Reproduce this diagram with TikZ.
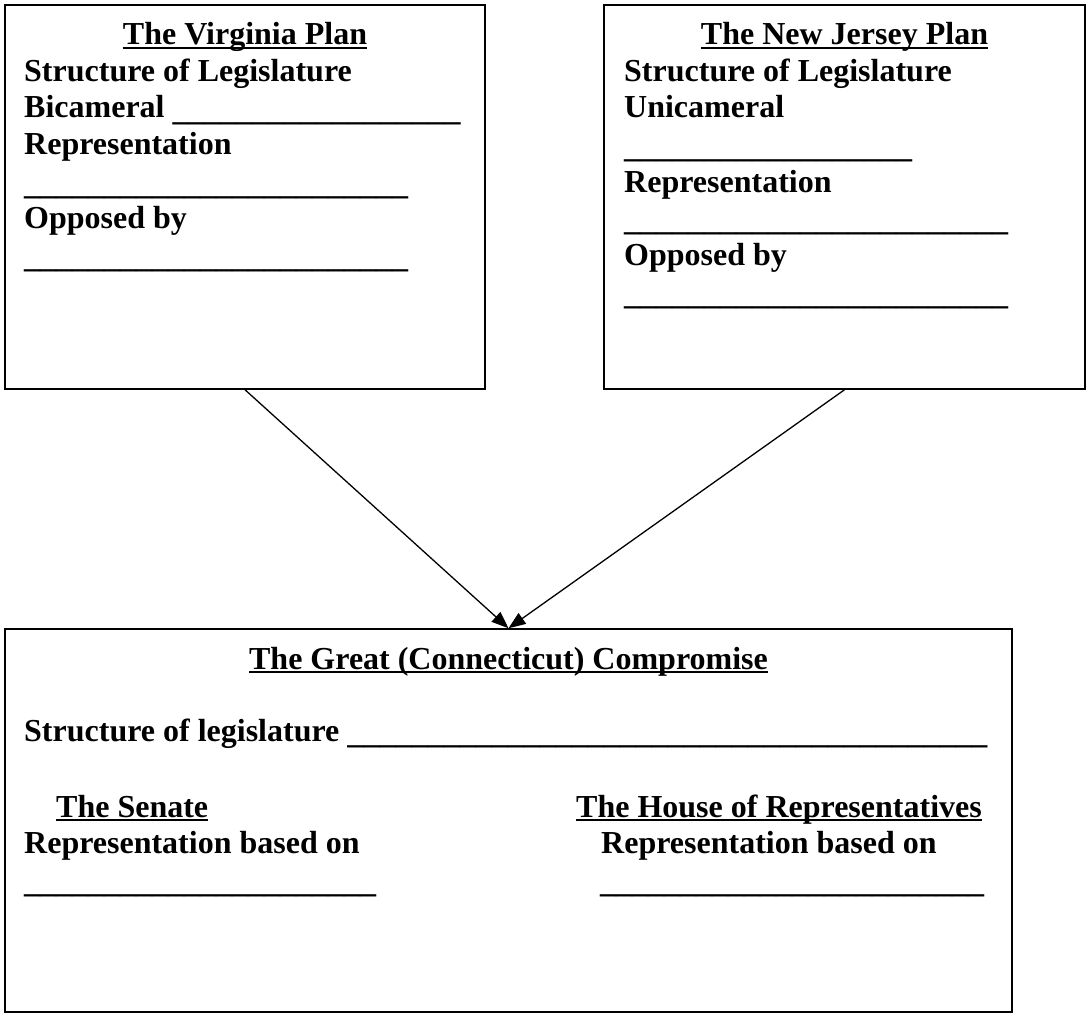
\documentclass[tikz,border=0pt]{standalone}
\usepackage{fontspec}
\setmainfont{Liberation Serif}
\usetikzlibrary{arrows.meta}
\newcommand\ulx[1]{\setbox0\hbox{#1}\rlap{\rule[-4pt]{\wd0}{1.8pt}}\box0}
\newcommand\blanks[1]{\raisebox{-2.5pt}{\count255=0 \loop\_\advance\count255 by 1 \ifnum\count255<#1 \repeat}}
\tikzset{
  x=1pt, y=-1pt,
  box/.style={draw, line width=1.5pt, inner sep=0pt},
  txt/.style={anchor=base west, inner sep=0pt, font=\fontsize{32}{37}\selectfont\bfseries},
  ttl/.style={anchor=base, inner sep=0pt, font=\fontsize{32}{37}\selectfont\bfseries},
  link/.style={line width=1.3pt, -{Triangle[length=17pt,width=13pt]}}
}
\begin{document}
\begin{tikzpicture}
\useasboundingbox (0,0) rectangle (1087,1014);
% boxes
\node[box, minimum width=480pt, minimum height=384pt] (va) at (245,197) {};
\node[box, minimum width=481pt, minimum height=384pt] (nj) at (844.5,197) {};
\node[box, minimum width=1007pt, minimum height=383pt] (gc) at (508.5,820.5) {};
% Virginia plan
\node[ttl] (vat) at (245,45) {\ulx{The Virginia Plan}};
\node[txt] (va1) at (24,82) {Structure of Legislature};
\node[txt] (va2) at (24,118) {Bicameral \blanks{18}};
\node[txt] (va3) at (24,155) {Representation};
\node[txt] (va4) at (24,192) {\blanks{24}};
\node[txt] (va5) at (24,228) {Opposed by};
\node[txt] (va6) at (24,265) {\blanks{24}};
% New Jersey plan
\node[ttl] (njt) at (844.5,45) {\ulx{The New Jersey Plan}};
\node[txt] (nj1) at (624,82) {Structure of Legislature};
\node[txt] (nj2) at (624,118) {Unicameral};
\node[txt] (nj3) at (624,155) {\blanks{18}};
\node[txt] (nj4) at (624,192) {Representation};
\node[txt] (nj5) at (624,228) {\blanks{24}};
\node[txt] (nj6) at (624,265) {Opposed by};
\node[txt] (nj7) at (624,302) {\blanks{24}};
% Compromise
\node[ttl] (gct) at (508.5,669) {\ulx{The Great (Connecticut) Compromise}};
\node[txt] (gc1) at (24,741) {Structure of legislature \blanks{40}};
\node[txt] (gc2) at (56,817) {\ulx{The Senate}};
\node[txt] (gc3) at (24,853) {Representation based on};
\node[txt] (gc4) at (24,890) {\blanks{22}};
\node[txt] (gc5) at (576,817) {\ulx{The House of Representatives}};
\node[txt] (gc6) at (601,853) {Representation based on};
\node[txt] (gc7) at (600,890) {\blanks{24}};
% arrows
\draw[link] (va.south) -- (gc.north);
\draw[link] (nj.south) -- (gc.north);
\end{tikzpicture}
\end{document}
